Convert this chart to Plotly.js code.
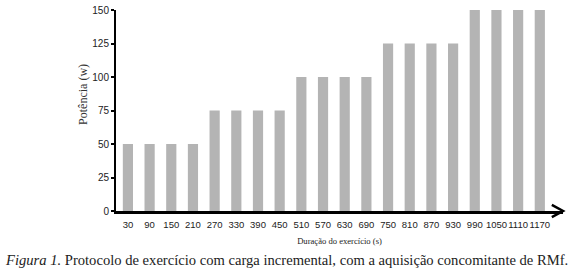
<!DOCTYPE html>
<html><head><meta charset="utf-8">
<script src="https://cdn.plot.ly/plotly-3.0.1.min.js"></script>
<style>html,body{margin:0;padding:0;background:#fff;}#chart{width:580px;height:278px;}</style>
</head><body><div id="chart"></div>
<script>
const durations = ['30','90','150','210','270','330','390','450','510','570','630','690','750','810','870','930','990','1050','1110','1170'];
const power = [50,50,50,50,75,75,75,75,100,100,100,100,125,125,125,125,150,150,150,150];
const yTicks = [0,25,50,75,100,125,150];
const xTitle = 'Duração do exercício (s)';
const yTitle = 'Potência (w)';
const caption = '<i>Figura 1.</i> Protocolo de exercício com carga incremental, com a aquisição concomitante de RMf.';

const trace = {type:'bar', x:durations, y:power, marker:{color:'#b4b4b4'}, width:0.47, hoverinfo:'none'};
const layout = {
  width:580, height:278, margin:{l:116, r:17, t:10, b:67},
  paper_bgcolor:'#fff', plot_bgcolor:'#fff', showlegend:false,
  bargap:0.53,
  xaxis:{type:'category', range:[-0.55, 20.07], showline:true, linecolor:'#000', linewidth:2.5,
    ticks:'', tickangle:0, ticklabelstandoff:3, showgrid:false, zeroline:false, tickfont:{family:'Liberation Sans, Arial', size:9.5, color:'#222'},
    title:{text:xTitle, font:{family:'Liberation Serif, serif', size:8.6, color:'#222'}, standoff:9}},
  yaxis:{range:[0,150], tickvals:yTicks, showline:true, linecolor:'#000', linewidth:2,
    ticks:'outside', ticklen:3, tickwidth:2, tickcolor:'#000', showgrid:false, zeroline:false,
    tickfont:{family:'Liberation Sans, Arial', size:10, color:'#222'}},
  shapes:[{type:'path', xref:'paper', yref:'paper', path:'M 0.975,0.03 L 1.0,0 L 0.975,-0.03', line:{color:'#000', width:2.5}}],
  annotations:[
    {xref:'paper', yref:'paper', x:-0.074, y:0.582, xanchor:'center', yanchor:'middle', textangle:-90, showarrow:false,
     text:yTitle, font:{family:'Liberation Serif, serif', size:12, color:'#333'}},
    {xref:'paper', yref:'paper', x:-0.253, y:-0.195, xanchor:'left', yanchor:'top', showarrow:false,
     text:caption, font:{family:'Liberation Serif, serif', size:14.6, color:'#222'}}]
};
Plotly.newPlot('chart',[trace],layout,{displayModeBar:false, staticPlot:true});
</script></body></html>
